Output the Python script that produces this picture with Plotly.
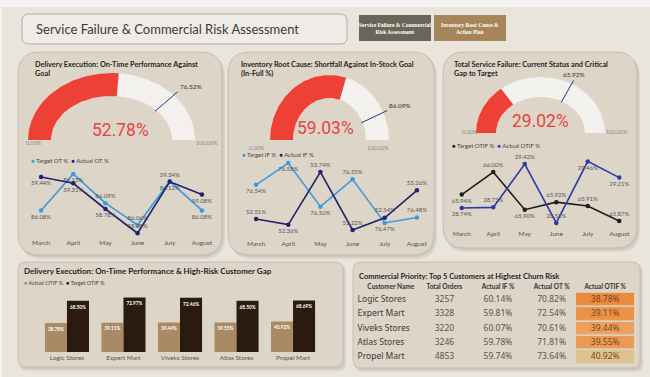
import numpy as np
import plotly.graph_objects as go

W, H = 650, 377

# ---------------- data ----------------
months = ["March", "April", "May", "June", "July", "August"]
target_ot = [86.08, 86.13, 86.09, 86.06, 86.12, 86.08]
actual_ot = [59.44, 59.31, 58.78, 58.28, 59.34, 59.08]
target_if = [76.54, 76.58, 76.50, 76.55, 76.47, 76.48]
actual_if = [52.51, 52.36, 53.74, 52.22, 52.54, 53.26]
target_otif = [65.94, 66.00, 65.90, 65.92, 65.91, 65.87]
actual_otif = [28.74, 28.75, 29.42, 28.51, 29.46, 29.21]

gauge_values = [52.78, 59.03, 29.02]
gauge_targets = [76.52, 86.09, 65.92]

customers = ["Logic Stores", "Expert Mart", "Viveks Stores", "Atlas Stores", "Propel Mart"]
total_orders = [3257, 3328, 3220, 3246, 4853]
cust_actual_if = [60.14, 59.81, 60.07, 59.78, 59.74]
cust_actual_ot = [70.82, 72.54, 70.61, 71.81, 73.64]
cust_actual_otif = [38.78, 39.11, 39.44, 39.55, 40.92]
cust_target_otif = [68.50, 72.97, 72.46, 68.50, 68.69]
table_headers = ["Customer Name", "Total Orders", "Actual IF %", "Actual OT %", "Actual OTIF %"]

# ---------------- helpers ----------------
def X(x):
    return x / W

def Y(y):
    return 1 - y / H

def rrect(x0, y0, x1, y1, r):
    return (f"M{X(x0+r)},{Y(y0)} L{X(x1-r)},{Y(y0)} Q{X(x1)},{Y(y0)} {X(x1)},{Y(y0+r)} "
            f"L{X(x1)},{Y(y1-r)} Q{X(x1)},{Y(y1)} {X(x1-r)},{Y(y1)} "
            f"L{X(x0+r)},{Y(y1)} Q{X(x0)},{Y(y1)} {X(x0)},{Y(y1-r)} "
            f"L{X(x0)},{Y(y0+r)} Q{X(x0)},{Y(y0)} {X(x0+r)},{Y(y0)} Z")

def yr(va, pa, vb, pb, top, bot):
    s = (va - vb) / (pb - pa)
    return [vb - (bot - pb) * s, va + (pa - top) * s]

FONT = "Lato, 'Noto Sans', sans-serif"
NUMFONT = "Roboto, sans-serif"
PANEL = "#e9e5dd"
CARD = "#dcd5c8"
CARDLINE = "#c6beb0"
RED = "#ee4136"
GBG = "#f3f1ee"

fig = go.Figure()
shapes = []
ann = []

# panel background
shapes.append(dict(type="rect", xref="paper", yref="paper", x0=X(2), x1=X(650), y0=Y(377), y1=Y(7),
                   fillcolor=PANEL, line=dict(width=0), layer="below"))

# cards
cards = [(18, 52, 222, 255, 22), (228, 52, 434, 255, 22), (443, 52, 637, 248, 22),
         (18, 262, 343, 367, 8), (353, 262, 640, 368, 8)]
for (x0, y0, x1, y1, r) in cards:
    shapes.append(dict(type="path", xref="paper", yref="paper", path=rrect(x0 + 2, y0 + 3, x1 + 3, y1 + 4, r),
                       fillcolor="rgba(90,80,60,0.10)", line=dict(width=0), layer="below"))
    shapes.append(dict(type="path", xref="paper", yref="paper", path=rrect(x0 + 1, y0 + 1, x1 + 1.5, y1 + 2, r),
                       fillcolor="rgba(90,80,60,0.10)", line=dict(width=0), layer="below"))
    shapes.append(dict(type="path", xref="paper", yref="paper", path=rrect(x0, y0, x1, y1, r),
                       fillcolor=CARD, line=dict(color=CARDLINE, width=1), layer="below"))

# title box + buttons
shapes.append(dict(type="path", xref="paper", yref="paper", path=rrect(22, 14, 347, 44, 7),
                   fillcolor="#efece7", line=dict(color="#b3ada4", width=1), layer="below"))
ann.append(dict(x=X(34), y=Y(29), xref="paper", yref="paper", xanchor="left", yanchor="middle",
                text="Service Failure & Commercial Risk Assessment", showarrow=False,
                font=dict(family=FONT, size=13, color="#3a3a3a")))
for (x0, x1, col, txt) in [(359, 431, "#6b6458", "Service Failure & Commercial<br>Risk Assessment"),
                           (434, 506, "#a68659", "Inventory Root Cause &<br>Action Plan")]:
    shapes.append(dict(type="rect", xref="paper", yref="paper", x0=X(x0), x1=X(x1), y0=Y(41), y1=Y(15),
                       fillcolor=col, line=dict(width=0), layer="below"))
    ann.append(dict(x=X((x0 + x1) / 2), y=Y(28), xref="paper", yref="paper", xanchor="center", yanchor="middle",
                    text=f"<b>{txt}</b>", showarrow=False,
                    font=dict(family="'Liberation Serif', serif", size=5.5, color="#ffffff")))

# card titles
titles = [(33, "Delivery Execution: On-Time Performance Against<br>Goal"),
          (239, "Inventory Root Cause: Shortfall Against In-Stock Goal<br>(In-Full %)"),
          (452, "Total Service Failure: Current Status and Critical<br>Gap to Target")]
for (x, t) in titles:
    ann.append(dict(x=X(x), y=Y(57.5), xref="paper", yref="paper", xanchor="left", yanchor="top",
                    text=f"<b>{t}</b>", showarrow=False, align="left",
                    font=dict(family=FONT, size=7.3, color="#252525")))

layout = {}

# ---------------- gauges ----------------
gauges = [
    dict(cx=111.5, rx=83.5, base=140, ry=67, th=23, vt=(120, 130), mn=(34, 143), mx=(207, 143), tanchor="left"),
    dict(cx=329.5, rx=59.5, base=140, ry=65, th=23, vt=(325, 128), mn=(257, 148), mx=(378, 148), tanchor="left"),
    dict(cx=540.5, rx=64.5, base=133, ry=56, th=20, vt=(540, 121), mn=(470, 132), mx=(617, 132), tanchor="center"),
]

def arc_poly(f0, f1, rix, riy, n=80):
    t = np.linspace(np.pi * (1 - f0), np.pi * (1 - f1), n)
    xo, yo = np.cos(t), np.sin(t)
    xi, yi = rix * np.cos(t[::-1]), riy * np.sin(t[::-1])
    return np.concatenate([xo, xi, xo[:1]]), np.concatenate([yo, yi, yo[:1]])

for i, g in enumerate(gauges):
    k = i + 1
    xa = "x" if k == 1 else f"x{k}"
    ya = "y" if k == 1 else f"y{k}"
    layout[f"xaxis{'' if k == 1 else k}"] = dict(domain=[X(g["cx"] - g["rx"]), X(g["cx"] + g["rx"])],
                                                 range=[-1, 1], visible=False, fixedrange=True, anchor=ya)
    layout[f"yaxis{'' if k == 1 else k}"] = dict(domain=[Y(g["base"]), Y(g["base"] - g["ry"])],
                                                 range=[0, 1], visible=False, fixedrange=True, anchor=xa)
    rix = 1 - g["th"] / g["rx"]
    riy = 1 - g["th"] / g["ry"]
    bx, by = arc_poly(0, 1, rix, riy)
    fig.add_trace(go.Scatter(x=bx, y=by, fill="toself", fillcolor=GBG, line=dict(width=0), mode="lines",
                             xaxis=xa, yaxis=ya, hoverinfo="skip", showlegend=False))
    vx, vy = arc_poly(0, gauge_values[i] / 100, rix, riy)
    fig.add_trace(go.Scatter(x=vx, y=vy, fill="toself", fillcolor=RED, line=dict(width=0), mode="lines",
                             xaxis=xa, yaxis=ya, hoverinfo="skip", showlegend=False))
    a = np.pi * (1 - gauge_targets[i] / 100)
    r0x, r0y, r1 = rix - 0.02, riy - 0.02, 1.07
    fig.add_trace(go.Scatter(x=[r0x * np.cos(a), r1 * np.cos(a)], y=[r0y * np.sin(a), r1 * np.sin(a)],
                             mode="lines", line=dict(color="#2e2e8f", width=1), xaxis=xa, yaxis=ya,
                             hoverinfo="skip", showlegend=False))
    ann.append(dict(x=r1 * np.cos(a), y=r1 * np.sin(a), xref=xa, yref=ya, xanchor=g["tanchor"], yanchor="bottom",
                    text=f"{gauge_targets[i]:.2f}%", showarrow=False, font=dict(family=FONT, size=6.5, color="#333")))
    ann.append(dict(x=X(g["vt"][0]), y=Y(g["vt"][1]), xref="paper", yref="paper", xanchor="center", yanchor="middle",
                    text=f"{gauge_values[i]:.2f}%", showarrow=False, font=dict(family=NUMFONT, size=17.5, color="#e8453c")))
    ann.append(dict(x=X(g["mn"][0]), y=Y(g["mn"][1]), xref="paper", yref="paper", xanchor="center", yanchor="middle",
                    text="0.00%", showarrow=False, font=dict(family=FONT, size=5.5, color="#8a8a8a")))
    ann.append(dict(x=X(g["mx"][0]), y=Y(g["mx"][1]), xref="paper", yref="paper", xanchor="center", yanchor="middle",
                    text="100.00%", showarrow=False, font=dict(family=FONT, size=5.5, color="#8a8a8a")))

# ---------------- line charts ----------------
lines = [
    dict(xd=(25, 218), top=165, bot=237, t=target_ot, a=actual_ot,
         tr=yr(86.13, 174, 86.06, 225, 165, 237), ar=yr(59.44, 177, 58.78, 209, 165, 237),
         tc="#3b9ae1", ac="#22226e", tn="Target OT %", an="Actual OT %",
         tpos=["bottom center", "bottom center", "top center", "top center", "bottom center", "bottom center"],
         apos=["bottom center", "bottom center", "bottom center", "top center", "top center", "bottom center"],
         leg=(29, 160)),
    dict(xd=(240, 433), top=150, bot=238, t=target_if, a=actual_if,
         tr=yr(76.58, 163, 76.47, 223, 150, 238), ar=yr(53.74, 172, 52.22, 230, 150, 238),
         tc="#3b9ae1", ac="#22226e", tn="Target IF %", an="Actual IF %",
         tpos=["bottom center", "bottom center", "bottom center", "top center", "bottom center", "top center"],
         apos=["top center", "bottom center", "top center", "top center", "top center", "top center"],
         leg=(240, 154)),
    dict(xd=(446, 635), top=150, bot=228, t=target_otif, a=actual_otif,
         tr=yr(66.00, 172, 65.87, 221, 150, 228), ar=yr(29.42, 164, 28.74, 208, 150, 228),
         tc="#1e1e1e", ac="#2b3aa6", tn="Target OTIF %", an="Actual OTIF %",
         tpos=["bottom center", "top center", "bottom center", "top center", "top center", "top center"],
         apos=["bottom center", "top center", "top center", "top center", "bottom center", "bottom center"],
         leg=(450, 145)),
]
for i, L in enumerate(lines):
    xk = 4 + i
    yk1 = 4 + 2 * i
    yk2 = yk1 + 1
    layout[f"xaxis{xk}"] = dict(domain=[X(L["xd"][0]), X(L["xd"][1])], type="category", range=[-0.5, 5.5],
                                showgrid=False, zeroline=False, showline=False, ticks="",
                                tickfont=dict(family=FONT, size=6.5, color="#555"), anchor=f"y{yk1}", fixedrange=True)
    layout[f"yaxis{yk1}"] = dict(domain=[Y(L["bot"]), Y(L["top"])], range=L["tr"], visible=False,
                                 anchor=f"x{xk}", fixedrange=True)
    layout[f"yaxis{yk2}"] = dict(range=L["ar"], visible=False, overlaying=f"y{yk1}", anchor=f"x{xk}", fixedrange=True)
    fig.add_trace(go.Scatter(x=months, y=L["t"], mode="lines+markers+text", name=L["tn"],
                             line=dict(color=L["tc"], width=1.6), marker=dict(size=4.5, color=L["tc"]),
                             text=[f"{v:.2f}%" for v in L["t"]], textposition=L["tpos"],
                             textfont=dict(family=FONT, size=6, color="#555"), cliponaxis=False,
                             xaxis=f"x{xk}", yaxis=f"y{yk1}", showlegend=False))
    fig.add_trace(go.Scatter(x=months, y=L["a"], mode="lines+markers+text", name=L["an"],
                             line=dict(color=L["ac"], width=1.6), marker=dict(size=4.5, color=L["ac"]),
                             text=[f"{v:.2f}%" for v in L["a"]], textposition=L["apos"],
                             textfont=dict(family=FONT, size=6, color="#555"), cliponaxis=False,
                             xaxis=f"x{xk}", yaxis=f"y{yk2}", showlegend=False))
    ann.append(dict(x=X(L["leg"][0]), y=Y(L["leg"][1]), xref="paper", yref="paper", xanchor="left", yanchor="middle",
                    text=(f"<span style='color:{L['tc']}'>●</span> {L['tn']}  "
                          f"<span style='color:{L['ac']}'>●</span> {L['an']}"),
                    showarrow=False, font=dict(family=FONT, size=6, color="#444")))

# ---------------- bar chart ----------------
TAN = "#a98a65"
DARK = "#2b1b0e"
layout["xaxis7"] = dict(domain=[X(38.7), X(321.3)], showgrid=False, zeroline=False, showline=False, ticks="",
                        tickfont=dict(family=FONT, size=6.5, color="#555"), anchor="y10", fixedrange=True)
layout["yaxis10"] = dict(domain=[Y(352), Y(290)], range=[0, 62 / 0.748], visible=False, anchor="x7", fixedrange=True)
fig.add_trace(go.Bar(x=customers, y=cust_actual_otif, name="Actual OTIF %", marker=dict(color=TAN, line=dict(width=0)),
                     texttemplate="<b>%{y:.2f}%</b>", textposition="inside", insidetextanchor="end", textangle=0,
                     textfont=dict(family=FONT, size=5, color="white"), xaxis="x7", yaxis="y10", showlegend=False))
fig.add_trace(go.Bar(x=customers, y=cust_target_otif, name="Target OTIF %", marker=dict(color=DARK, line=dict(width=0)),
                     texttemplate="<b>%{y:.2f}%</b>", textposition="inside", insidetextanchor="end", textangle=0,
                     textfont=dict(family=FONT, size=5, color="white"), xaxis="x7", yaxis="y10", showlegend=False))
ann.append(dict(x=X(22), y=Y(271), xref="paper", yref="paper", xanchor="left", yanchor="middle",
                text="<b>Delivery Execution: On-Time Performance & High-Risk Customer Gap</b>", showarrow=False,
                font=dict(family=FONT, size=8, color="#252525")))
ann.append(dict(x=X(22), y=Y(283), xref="paper", yref="paper", xanchor="left", yanchor="middle",
                text=f"<span style='color:{TAN}'>●</span> Actual OTIF %  <span style='color:#111'>●</span> Target OTIF %",
                showarrow=False, font=dict(family=FONT, size=5.5, color="#444")))

# ---------------- table (text grid + conditional-format heatmap) ----------------
otif_fill = ["#e98a3c", "#ea9347", "#eca05e", "#e99a55", "#dcc28f"]
rows = list(range(len(customers)))
UNIT = 53.6
layout["xaxis8"] = dict(domain=[X(364 - 0.2 * UNIT), X(364 + 5.05 * UNIT)], range=[-0.7, 4.55], visible=False,
                        anchor="y11", fixedrange=True)
layout["yaxis11"] = dict(domain=[Y(364.4), Y(278.5)], range=[4.5, -1.5], visible=False, anchor="x8", fixedrange=True)
lo, hi = min(cust_actual_otif), max(cust_actual_otif)
cscale = [[(v - lo) / (hi - lo), c] for v, c in sorted(zip(cust_actual_otif, otif_fill))]
fig.add_trace(go.Heatmap(z=[[v] for v in cust_actual_otif], x0=3.996, dx=1.082, y=rows,
                         colorscale=cscale, showscale=False, ygap=1.6, hoverinfo="skip",
                         xaxis="x8", yaxis="y11"))
TFONT = "'Noto Sans', sans-serif"
fig.add_trace(go.Scatter(x=list(range(5)), y=[-0.9] * 5, mode="text",
                         text=[f"<b>{h}</b>" for h in table_headers], textposition="middle center",
                         textfont=dict(family=FONT, size=6.5, color="#333"), xaxis="x8", yaxis="y11",
                         hoverinfo="skip", showlegend=False, cliponaxis=False))
fig.add_trace(go.Scatter(x=[-0.62] * 5, y=rows, mode="text", text=customers, textposition="middle right",
                         textfont=dict(family=TFONT, size=8.5, color="#3a3a3a"), xaxis="x8", yaxis="y11",
                         hoverinfo="skip", showlegend=False, cliponaxis=False))
for k, (vals, col) in enumerate([([str(v) for v in total_orders], "#555"),
                                 ([f"{v:.2f}%" for v in cust_actual_if], "#555"),
                                 ([f"{v:.2f}%" for v in cust_actual_ot], "#555"),
                                 ([f"{v:.2f}%" for v in cust_actual_otif], "#7a4520")], start=1):
    fig.add_trace(go.Scatter(x=[k] * 5, y=rows, mode="text", text=vals, textposition="middle center",
                             textfont=dict(family=TFONT, size=8.5, color=col), xaxis="x8", yaxis="y11",
                             hoverinfo="skip", showlegend=False, cliponaxis=False))
ann.append(dict(x=X(357), y=Y(276), xref="paper", yref="paper", xanchor="left", yanchor="middle",
                text="<b>Commercial Priority: Top 5 Customers at Highest Churn Risk</b>", showarrow=False,
                font=dict(family=FONT, size=7.5, color="#252525")))

fig.update_layout(**layout)
fig.update_layout(width=W, height=H, margin=dict(l=0, r=0, t=0, b=0), paper_bgcolor="#f5f4f2",
                  plot_bgcolor="rgba(0,0,0,0)", shapes=shapes, annotations=ann, barmode="group",
                  bargap=0.22, bargroupgap=0, showlegend=False, font=dict(family=FONT))
fig.write_html("out.html", config={"displayModeBar": False},
               post_script="document.body.style.margin='0px';document.body.style.overflow='hidden';")
